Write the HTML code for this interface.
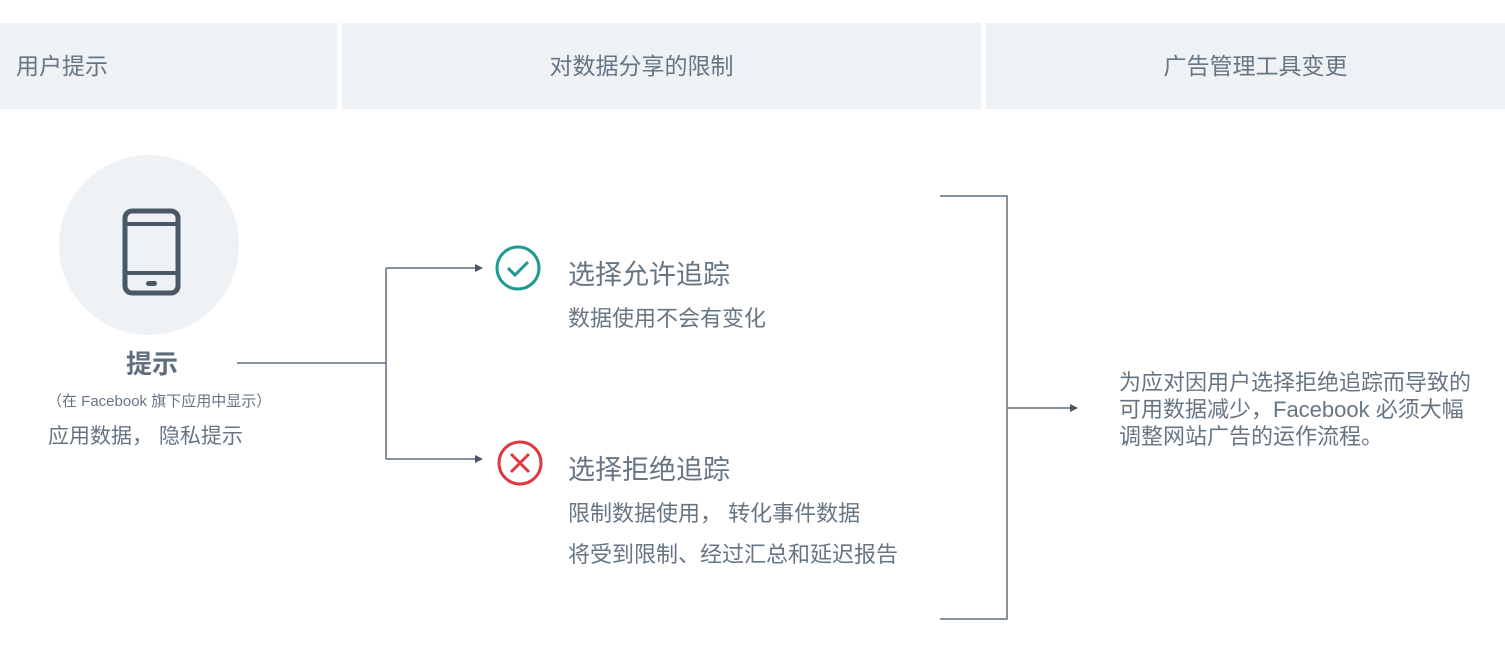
<!DOCTYPE html>
<html><head><meta charset="utf-8"><style>
body{margin:0;width:1505px;height:649px;background:#fff;position:relative;overflow:hidden;font-family:"Liberation Sans","Noto Sans CJK SC",sans-serif;color:#667584}
.a{position:absolute;white-space:nowrap;line-height:1.2}
.h{position:absolute;top:23px;height:86px;background:#eff2f5;font-size:23px;line-height:86px;color:#667584}
</style></head><body>
<div class="h" style="left:0;width:337px;padding-left:16px;box-sizing:border-box">用户提示</div>
<div class="h" style="left:342px;width:639px;text-align:center;padding-right:40px;box-sizing:border-box">对数据分享的限制</div>
<div class="h" style="left:986px;width:519px;text-align:center;padding-left:20px;box-sizing:border-box">广告管理工具变更</div>
<div class="a" style="left:59px;top:155px;width:180px;height:180px;border-radius:50%;background:#eff2f5"></div>
<svg class="a" style="left:0;top:0" width="1505" height="649">
<rect x="125" y="211" width="53" height="82" rx="7" fill="none" stroke="#4a5866" stroke-width="5"/>
<line x1="125" y1="224" x2="178" y2="224" stroke="#4a5866" stroke-width="4"/>
<line x1="125" y1="273" x2="178" y2="273" stroke="#4a5866" stroke-width="4"/>
<rect x="146" y="281" width="11" height="5" rx="2.5" fill="#4a5866"/>
<g stroke="#5f6e7c" stroke-width="1.5" fill="none">
<path d="M237 363H386M386 268V459M386 268H476M386 459H476M940 196H1007V619H940M1007 408H1070"/>
</g>
<g fill="#4a5866"><path d="M483 268l-8-4v8z"/><path d="M483 459l-8-4v8z"/><path d="M1078 408l-8-4v8z"/></g>
<circle cx="518" cy="268" r="21" fill="none" stroke="#1f9a93" stroke-width="3"/>
<path d="M508 268l7 7 13-13" fill="none" stroke="#1f9a93" stroke-width="3"/>
<circle cx="520" cy="463" r="21" fill="none" stroke="#dc3a40" stroke-width="3"/>
<path d="M511 454l18 18M529 454l-18 18" stroke="#dc3a40" stroke-width="3"/>
</svg>
<div class="a" style="left:126px;top:349px;font-size:26px;font-weight:bold;color:#5f6e7c">提示</div>
<div class="a" style="left:47px;top:393px;font-size:15px">（在 Facebook 旗下应用中显示）</div>
<div class="a" style="left:48px;top:424px;font-size:21px">应用数据， 隐私提示</div>
<div class="a" style="left:568px;top:259px;font-size:27px">选择允许追踪</div>
<div class="a" style="left:568px;top:306px;font-size:22px">数据使用不会有变化</div>
<div class="a" style="left:568px;top:454px;font-size:27px">选择拒绝追踪</div>
<div class="a" style="left:568px;top:501px;font-size:22px">限制数据使用， 转化事件数据</div>
<div class="a" style="left:568px;top:542px;font-size:22px">将受到限制、经过汇总和延迟报告</div>
<div class="a" style="left:1119px;top:369px;font-size:22px;line-height:27px">为应对因用户选择拒绝追踪而导致的<br>可用数据减少，Facebook 必须大幅<br>调整网站广告的运作流程。</div>
</body></html>
